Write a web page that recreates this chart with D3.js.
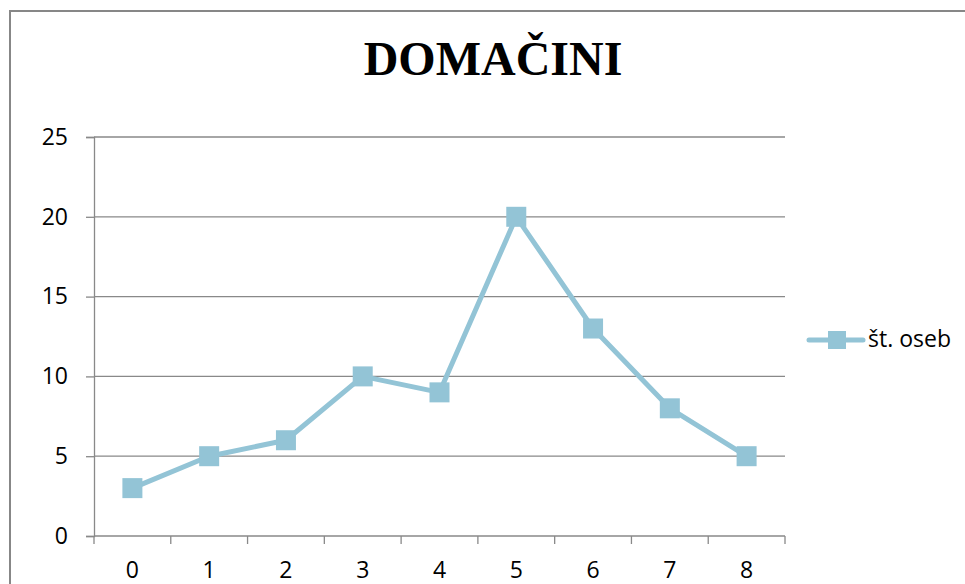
<!DOCTYPE html>
<html>
<head>
<meta charset="utf-8">
<script src="https://cdn.jsdelivr.net/npm/d3@7"></script>
<style>
  html, body { margin: 0; padding: 0; background: #fff; }
  svg { display: block; }
  .tick-label { font-family: "Open Sans", sans-serif; font-size: 23px; fill: #000; }
</style>
</head>
<body>
<svg id="chart" width="965" height="584"></svg>
<script>
const title = "DOMAČINI";
const categories = ["0", "1", "2", "3", "4", "5", "6", "7", "8"];
const counts = [3, 5, 6, 10, 9, 20, 13, 8, 5];
const yTicks = [0, 5, 10, 15, 20, 25];
const seriesName = "št. oseb";

const lineColor = "#93c4d6";
const gridColor = "#898989";

const svg = d3.select("#chart");
const plot = { left: 94, right: 785, top: 137, bottom: 536 };

// outer chart frame (runs off the bottom and right of the picture)
svg.append("path")
  .attr("d", "M10,590 V11 H970")
  .attr("fill", "none")
  .attr("stroke", "#878787")
  .attr("stroke-width", 2);

// scales
const x = d3.scaleBand()
  .domain(categories)
  .range([plot.left, plot.right]);

const y = d3.scaleLinear()
  .domain([0, 25])
  .range([plot.bottom, plot.top]);

// horizontal gridlines
svg.append("g")
  .selectAll("line")
  .data(yTicks.filter(d => d > 0))
  .join("line")
  .attr("x1", plot.left)
  .attr("x2", plot.right)
  .attr("y1", d => y(d))
  .attr("y2", d => y(d))
  .attr("stroke", gridColor)
  .attr("stroke-width", 1.3);

// y axis
const yAxis = svg.append("g")
  .attr("transform", `translate(${plot.left},0)`)
  .call(d3.axisLeft(y).tickValues(yTicks).tickSize(8).tickPadding(18));
yAxis.select(".domain").attr("stroke", gridColor).attr("stroke-width", 1.3);
yAxis.selectAll(".tick line").attr("stroke", gridColor).attr("stroke-width", 1.3);
yAxis.selectAll(".tick text").attr("class", "tick-label").attr("font-family", null).attr("font-size", null);

// x axis: ticks sit between categories
const xAxisG = svg.append("g")
  .attr("transform", `translate(0,${plot.bottom})`);
xAxisG.append("line")
  .attr("x1", plot.left)
  .attr("x2", plot.right)
  .attr("stroke", gridColor)
  .attr("stroke-width", 1.3);
const bounds = categories.map(c => x(c)).concat([x(categories[categories.length - 1]) + x.bandwidth()]);
xAxisG.selectAll(".xtick")
  .data(bounds)
  .join("line")
  .attr("class", "xtick")
  .attr("x1", d => d)
  .attr("x2", d => d)
  .attr("y1", 0)
  .attr("y2", 8)
  .attr("stroke", gridColor)
  .attr("stroke-width", 1.3);
xAxisG.selectAll(".xlabel")
  .data(categories)
  .join("text")
  .attr("class", "tick-label")
  .attr("x", d => x(d) + x.bandwidth() / 2)
  .attr("y", 42)
  .attr("text-anchor", "middle")
  .text(d => d);

// series line
const cx = i => x(categories[i]) + x.bandwidth() / 2;
const line = d3.line()
  .x((d, i) => cx(i))
  .y(d => y(d));

svg.append("path")
  .datum(counts)
  .attr("d", line)
  .attr("fill", "none")
  .attr("stroke", lineColor)
  .attr("stroke-width", 5)
  .attr("stroke-linejoin", "round");

const size = 20;
svg.selectAll(".marker")
  .data(counts)
  .join("rect")
  .attr("class", "marker")
  .attr("x", (d, i) => cx(i) - size / 2)
  .attr("y", d => y(d) - size / 2)
  .attr("width", size)
  .attr("height", size)
  .attr("fill", lineColor);

// title
svg.append("text")
  .attr("x", 493)
  .attr("y", 75)
  .attr("text-anchor", "middle")
  .style("font-family", "'Liberation Serif', 'Times New Roman', serif")
  .style("font-weight", "bold")
  .style("font-size", "48px")
  .text(title);

// legend
const legend = svg.append("g").attr("transform", "translate(809,340)");
legend.append("line")
  .attr("x1", 0)
  .attr("x2", 54)
  .attr("stroke", lineColor)
  .attr("stroke-width", 5)
  .attr("stroke-linecap", "round");
legend.append("rect")
  .attr("x", 19)
  .attr("y", -9)
  .attr("width", 18)
  .attr("height", 18)
  .attr("fill", lineColor);
legend.append("text")
  .attr("class", "tick-label")
  .attr("x", 59)
  .attr("y", 7)
  .text(seriesName);
</script>
</body>
</html>
